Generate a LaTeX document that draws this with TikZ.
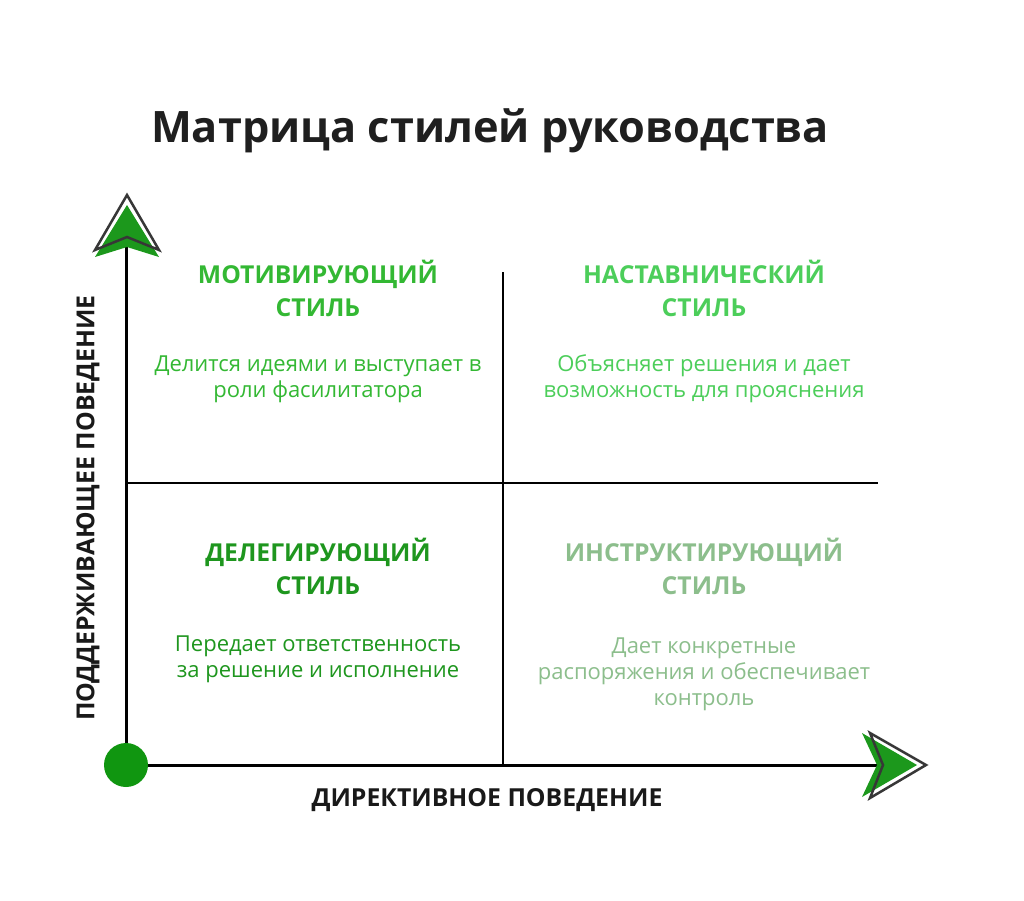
\documentclass[tikz,border=0pt]{standalone}
\usepackage{fontspec}
\setmainfont{Open Sans}
\definecolor{cTL}{RGB}{51,184,51}
\definecolor{cTR}{RGB}{76,206,90}
\definecolor{cBL}{RGB}{30,150,30}
\definecolor{cBR}{RGB}{140,190,140}
\definecolor{dotgreen}{RGB}{16,150,16}
\definecolor{arrgreen}{RGB}{28,152,28}
\definecolor{outl}{RGB}{55,55,55}
\begin{document}
\begin{tikzpicture}[x=1pt,y=-1pt,
  qtitle/.style={font=\bfseries\fontsize{24.7}{33}\selectfont, align=center, inner sep=0},
  qbody/.style={font=\fontsize{22}{26}\selectfont, align=center, inner sep=0},
  axislabel/.style={font=\bfseries\fontsize{24.8}{28}\selectfont, text=black!90, inner sep=0},
  axisline/.style={line width=3pt, black},
  divider/.style={line width=2.5pt, black},
  headgreen/.style={fill=arrgreen},
  headoutline/.style={draw=outl, line width=2.5pt, line join=miter}]
\useasboundingbox (0,0) rectangle (1024,900);
\fill[white] (0,0) rectangle (1024,900);
% title
\node[font=\bfseries\fontsize{43.3}{50}\selectfont, text=black!88, inner sep=0] (title) at (490,131) {Матрица стилей руководства};
% coordinates
\coordinate (oc) at (126,765);
\coordinate (ytop) at (126,246);
\coordinate (xend) at (879,765);
\coordinate (vt) at (503,272);
\coordinate (vb) at (503,765);
\coordinate (hl) at (126,483);
\coordinate (hr) at (878,483);
% lines
\draw[divider] (vt) -- (vb);
\draw[divider] (hl) -- (hr);
\draw[axisline] (oc) -- (ytop);
\draw[axisline] (oc) -- (xend);
% arrowheads
\fill[headgreen] (127,205) -- (95,257) -- (127,247) -- (159,257) -- cycle;
\draw[headoutline] (127,195) -- (95,250) -- (127,237) -- (159,250) -- cycle;
\fill[headgreen] (917,765) -- (862,733) -- (877,765) -- (862,797) -- cycle;
\draw[headoutline] (926,765) -- (870,733) -- (883,765) -- (870,798) -- cycle;
% origin
\node[circle, fill=dotgreen, minimum size=44pt, inner sep=0] (o) at (oc) {};
% axis labels
\node[axislabel, rotate=90] (ylab) at (88,508) {ПОДДЕРЖИВАЮЩЕЕ ПОВЕДЕНИЕ};
\node[axislabel] (xlab) at (487,800) {ДИРЕКТИВНОЕ ПОВЕДЕНИЕ};
% quadrants
\node[qtitle, text=cTL] (tlT) at (318,288) {МОТИВИРУЮЩИЙ\\СТИЛЬ};
\node[qbody, text=cTL] (tlB) at (318,379) {Делится идеями и выступает в\\роли фасилитатора};
\node[qtitle, text=cTR] (trT) at (704,288) {НАСТАВНИЧЕСКИЙ\\СТИЛЬ};
\node[qbody, text=cTR] (trB) at (704,379) {Объясняет решения и дает\\возможность для прояснения};
\node[qtitle, text=cBL] (blT) at (318,566) {ДЕЛЕГИРУЮЩИЙ\\СТИЛЬ};
\node[qbody, text=cBL] (blB) at (318,659) {Передает ответственность\\за решение и исполнение};
\node[qtitle, text=cBR] (brT) at (704,566) {ИНСТРУКТИРУЮЩИЙ\\СТИЛЬ};
\node[qbody, text=cBR] (brB) at (704,674) {Дает конкретные\\распоряжения и обеспечивает\\контроль};
\end{tikzpicture}
\end{document}
